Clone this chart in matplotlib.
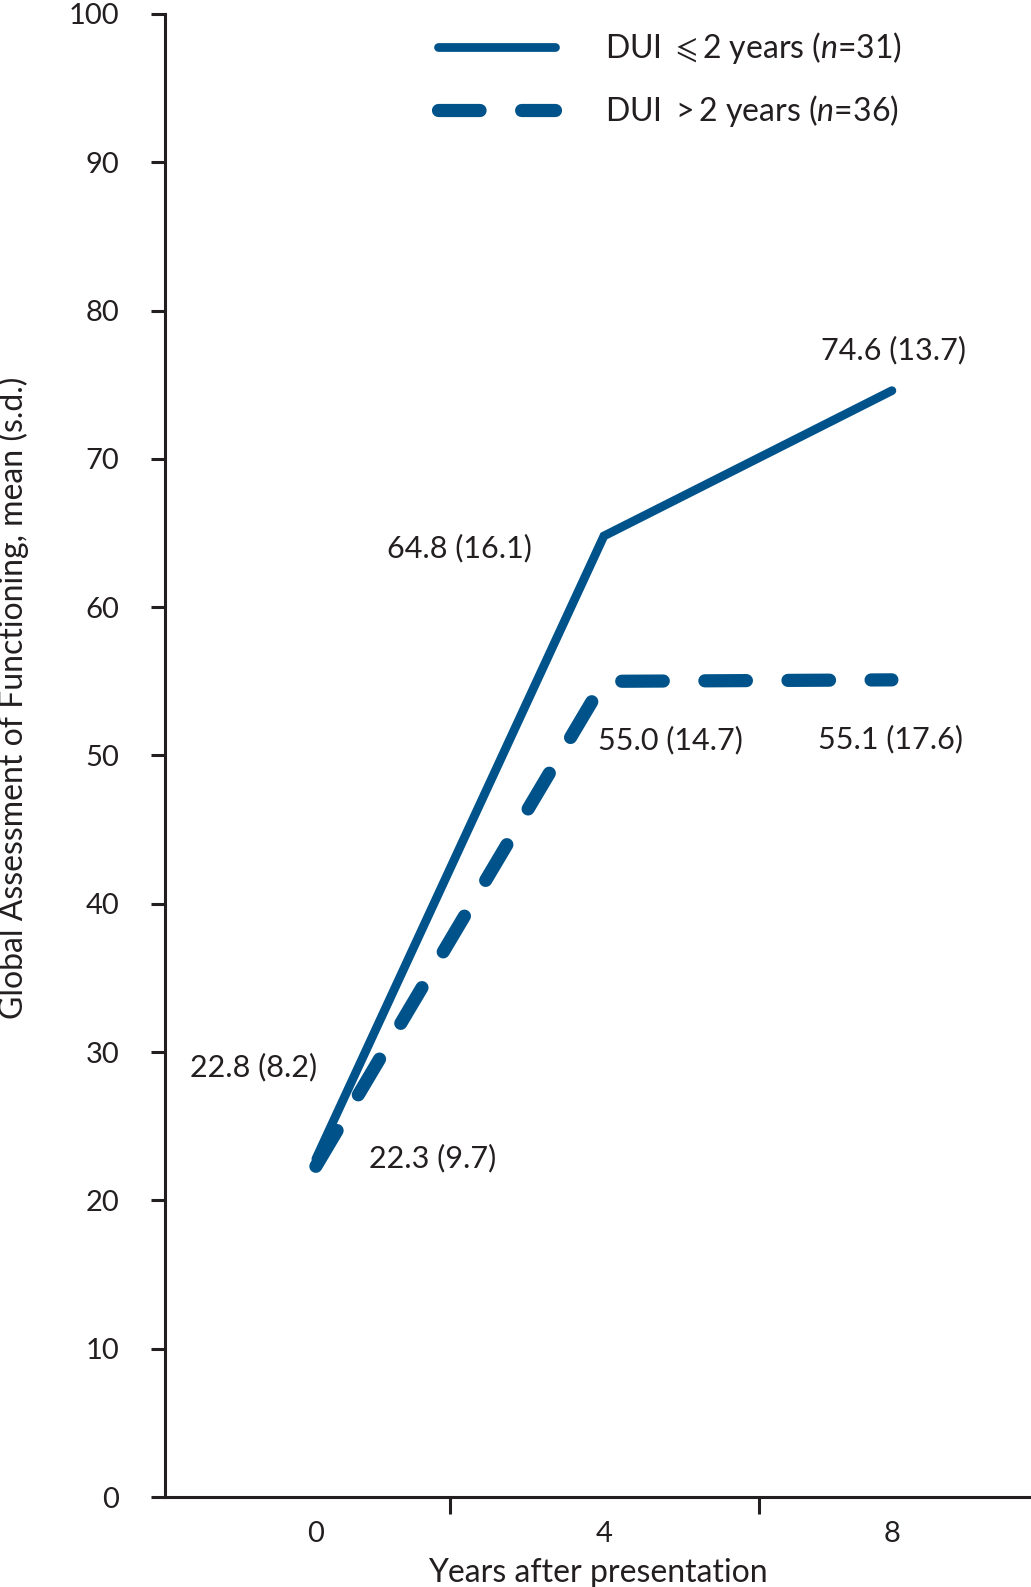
import matplotlib
matplotlib.use("Agg")
import matplotlib.pyplot as plt

plt.rcParams['font.family'] = ['Lato', 'DejaVu Sans']
plt.rcParams['mathtext.fontset'] = 'custom'
plt.rcParams['mathtext.rm'] = 'Lato'
plt.rcParams['mathtext.it'] = 'Lato:italic'

# data
years = ['0', '4', '8']
short_dui = [22.8, 64.8, 74.6]
short_sd = [8.2, 16.1, 13.7]
long_dui = [22.3, 55.0, 55.1]
long_sd = [9.7, 14.7, 17.6]
legend_labels = [r'DUI $\leqslant$2 years ($n$=31)', r'DUI $>$2 years ($n$=36)']

blue = '#00538a'
ink = '#231f20'

fig = plt.figure(figsize=(10.31, 15.87), dpi=100)
ax = fig.add_axes([0.160, 0.0567, 0.840, 0.9345])

xs = list(range(len(years)))
ax.plot(xs, short_dui, color=blue, lw=6.3, solid_capstyle='round',
        solid_joinstyle='miter', label=legend_labels[0])
ax.plot(xs, long_dui, color=blue, lw=9.5, dashes=(3.15, 3.15),
        dash_capstyle='round', label=legend_labels[1])

# value labels: mean (s.d.)
short_offsets = [(-45, 66), (-104, -9), (1, 29)]
long_offsets = [(84, 6), (48, -42), (-1, -43)]
for x, m, s, off in zip(xs, short_dui, short_sd, short_offsets):
    ax.annotate(f'{m:.1f} ({s})', (x, m), xytext=off, textcoords='offset points',
                ha='center', va='center', fontsize=22, color=ink)
for x, m, s, off in zip(xs, long_dui, long_sd, long_offsets):
    ax.annotate(f'{m:.1f} ({s})', (x, m), xytext=off, textcoords='offset points',
                ha='center', va='center', fontsize=22, color=ink)

ax.set_xlim(-0.524, 2.483)
ax.set_ylim(0, 100)
ax.set_yticks(range(0, 101, 10))
ax.set_xticks(xs)
ax.set_xticklabels(years)
ax.set_xticks([0.465, 1.538], minor=True)

for side in ['top', 'right']:
    ax.spines[side].set_visible(False)
for side in ['left', 'bottom']:
    ax.spines[side].set_linewidth(2.2)
    ax.spines[side].set_color(ink)

ax.tick_params(axis='y', direction='out', length=10, width=2.2, color=ink,
               labelsize=21, labelcolor=ink, pad=23)
ax.tick_params(axis='x', which='major', length=0, labelsize=21, labelcolor=ink, pad=17)
ax.tick_params(axis='x', which='minor', direction='out', length=12, width=2.2, color=ink)

ax.set_ylabel('Global Assessment of Functioning, mean (s.d.)', fontsize=23, color=ink)
ax.yaxis.set_label_coords(-0.157, 0.539)
ax.set_xlabel('Years after presentation', fontsize=23, color=ink)
ax.xaxis.set_label_coords(0.5, -0.041)

ax.legend(loc='upper left', bbox_to_anchor=(0.425, 0.981), bbox_transform=fig.transFigure,
          frameon=False, fontsize=23, handlelength=3.67, handletextpad=1.56,
          labelspacing=0.84, borderpad=0, borderaxespad=0, labelcolor=ink)

fig.savefig('out.png', dpi=100)
